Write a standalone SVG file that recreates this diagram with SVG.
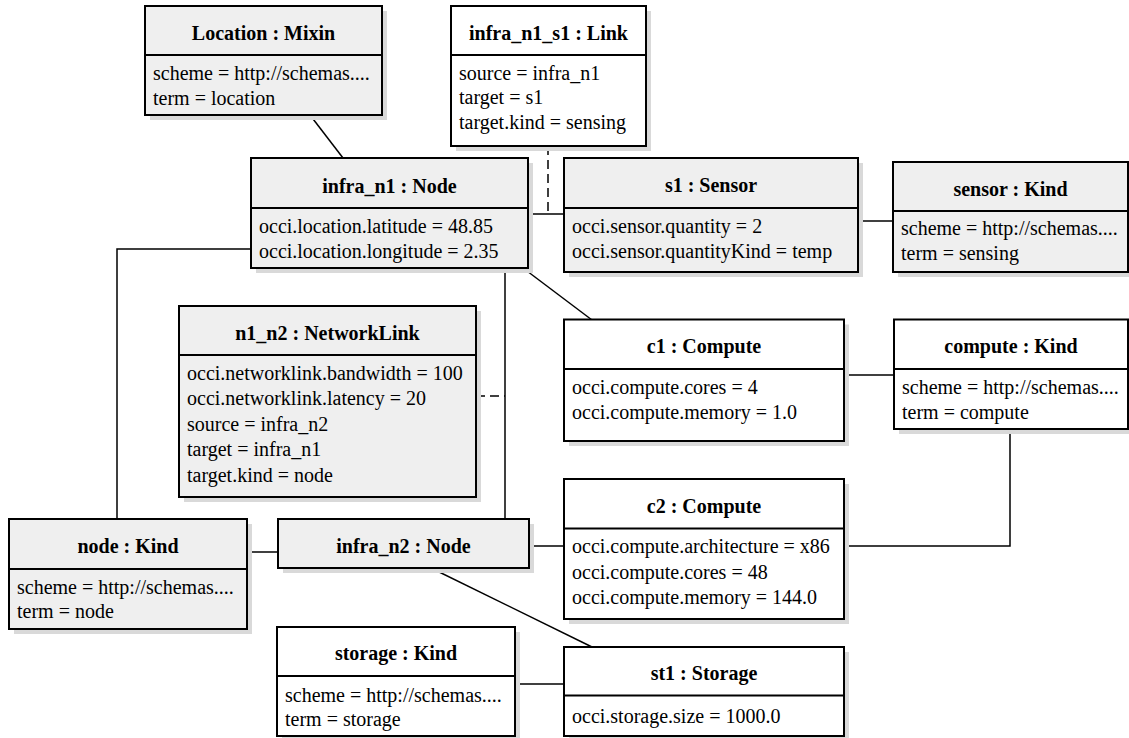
<svg xmlns="http://www.w3.org/2000/svg" width="1129" height="738" viewBox="0 0 1129 738">
<style>
.sh{fill:#d9d9d9;stroke:none}
.box{stroke:#000;stroke-width:2}
.g{fill:#efefef}
.w{fill:#fff}
.sep{stroke:#000;stroke-width:2}
text{font-family:'Liberation Serif','Times New Roman',Tinos,'DejaVu Serif',serif;font-size:20px;fill:#000}
.t{font-weight:bold;text-anchor:middle}
.c{fill:none;stroke:#000;stroke-width:1.5}
.d{stroke-dasharray:9,5}
</style>
<rect x="0" y="0" width="1129" height="738" fill="#fff"/>
<g id="connectors">
 <line class="c" x1="310" y1="115" x2="343" y2="158"/>
 <line class="c" x1="528" y1="214" x2="564" y2="214"/>
 <line class="c d" x1="548" y1="146" x2="548" y2="214"/>
 <line class="c" x1="858" y1="221" x2="893" y2="221"/>
 <polyline class="c" points="251,249 117,249 117,519"/>
 <line class="c" x1="523" y1="268" x2="592" y2="320"/>
 <line class="c" x1="505" y1="268" x2="505" y2="519"/>
 <line class="c d" x1="476" y1="396" x2="505" y2="396"/>
 <line class="c" x1="844" y1="375" x2="894" y2="375"/>
 <line class="c" x1="529" y1="546" x2="564" y2="546"/>
 <polyline class="c" points="844,546 1010,546 1010,429"/>
 <line class="c" x1="247" y1="552" x2="278" y2="552"/>
 <line class="c" x1="431" y1="568" x2="592" y2="647"/>
 <line class="c" x1="515" y1="684" x2="564" y2="684"/>
</g>
<g id="location-mixin">
 <rect class="sh" x="150" y="11" width="237" height="109"/>
 <rect class="box g" x="145" y="6" width="237" height="109"/>
 <line class="sep" x1="145" y1="55" x2="382" y2="55"/>
 <text class="t" x="263.5" y="40">Location : Mixin</text>
 <text class="a" x="153" y="80">scheme = http://schemas....</text>
 <text class="a" x="153" y="105">term = location</text>
</g>
<g id="infra_n1_s1-link">
 <rect class="sh" x="456" y="11" width="195" height="140"/>
 <rect class="box w" x="451" y="6" width="195" height="140"/>
 <line class="sep" x1="451" y1="55" x2="646" y2="55"/>
 <text class="t" x="548.5" y="40">infra_n1_s1 : Link</text>
 <text class="a" x="459" y="79.5">source = infra_n1</text>
 <text class="a" x="459" y="104">target = s1</text>
 <text class="a" x="459" y="128.5">target.kind = sensing</text>
</g>
<g id="infra_n1-node">
 <rect class="sh" x="256" y="163" width="277" height="110"/>
 <rect class="box g" x="251" y="158" width="277" height="110"/>
 <line class="sep" x1="251" y1="208" x2="528" y2="208"/>
 <text class="t" x="389.5" y="192.5">infra_n1 : Node</text>
 <text class="a" x="259" y="232.5">occi.location.latitude = 48.85</text>
 <text class="a" x="259" y="258">occi.location.longitude = 2.35</text>
</g>
<g id="s1-sensor">
 <rect class="sh" x="569" y="163" width="294" height="114"/>
 <rect class="box g" x="564" y="158" width="294" height="114"/>
 <line class="sep" x1="564" y1="208" x2="858" y2="208"/>
 <text class="t" x="711" y="192">s1 : Sensor</text>
 <text class="a" x="572" y="232.5">occi.sensor.quantity = 2</text>
 <text class="a" x="572" y="258">occi.sensor.quantityKind = temp</text>
</g>
<g id="sensor-kind">
 <rect class="sh" x="898" y="167" width="235" height="110"/>
 <rect class="box g" x="893" y="162" width="235" height="110"/>
 <line class="sep" x1="893" y1="211" x2="1128" y2="211"/>
 <text class="t" x="1010.5" y="195.5">sensor : Kind</text>
 <text class="a" x="901" y="234.5">scheme = http://schemas....</text>
 <text class="a" x="901" y="259.5">term = sensing</text>
</g>
<g id="n1_n2-networklink">
 <rect class="sh" x="184" y="311" width="297" height="191"/>
 <rect class="box g" x="179" y="306" width="297" height="191"/>
 <line class="sep" x1="179" y1="355" x2="476" y2="355"/>
 <text class="t" x="327.5" y="340">n1_n2 : NetworkLink</text>
 <text class="a" x="187" y="379.5">occi.networklink.bandwidth = 100</text>
 <text class="a" x="187" y="405">occi.networklink.latency = 20</text>
 <text class="a" x="187" y="430.5">source = infra_n2</text>
 <text class="a" x="187" y="456">target = infra_n1</text>
 <text class="a" x="187" y="481.5">target.kind = node</text>
</g>
<g id="c1-compute">
 <rect class="sh" x="569" y="324.5" width="280" height="121.5"/>
 <rect class="box w" x="564" y="319.5" width="280" height="121.5"/>
 <line class="sep" x1="564" y1="369" x2="844" y2="369"/>
 <text class="t" x="704" y="353">c1 : Compute</text>
 <text class="a" x="572" y="393.5">occi.compute.cores = 4</text>
 <text class="a" x="572" y="418.5">occi.compute.memory = 1.0</text>
</g>
<g id="compute-kind">
 <rect class="sh" x="899" y="324.5" width="234" height="109.5"/>
 <rect class="box w" x="894" y="319.5" width="234" height="109.5"/>
 <line class="sep" x1="894" y1="369" x2="1128" y2="369"/>
 <text class="t" x="1011" y="353">compute : Kind</text>
 <text class="a" x="902" y="393.5">scheme = http://schemas....</text>
 <text class="a" x="902" y="418.5">term = compute</text>
</g>
<g id="node-kind">
 <rect class="sh" x="14" y="524" width="238" height="110"/>
 <rect class="box g" x="9" y="519" width="238" height="110"/>
 <line class="sep" x1="9" y1="569" x2="247" y2="569"/>
 <text class="t" x="128" y="553">node : Kind</text>
 <text class="a" x="17" y="593.5">scheme = http://schemas....</text>
 <text class="a" x="17" y="618">term = node</text>
</g>
<g id="infra_n2-node">
 <rect class="sh" x="283" y="524" width="251" height="49"/>
 <rect class="box g" x="278" y="519" width="251" height="49"/>
 <text class="t" x="403.5" y="553">infra_n2 : Node</text>
</g>
<g id="c2-compute">
 <rect class="sh" x="569" y="484" width="280" height="140"/>
 <rect class="box w" x="564" y="479" width="280" height="140"/>
 <line class="sep" x1="564" y1="528.5" x2="844" y2="528.5"/>
 <text class="t" x="704" y="512.5">c2 : Compute</text>
 <text class="a" x="572" y="553">occi.compute.architecture = x86</text>
 <text class="a" x="572" y="578.5">occi.compute.cores = 48</text>
 <text class="a" x="572" y="604">occi.compute.memory = 144.0</text>
</g>
<g id="storage-kind">
 <rect class="sh" x="282" y="632" width="238" height="109"/>
 <rect class="box w" x="277" y="627" width="238" height="109"/>
 <line class="sep" x1="277" y1="676" x2="515" y2="676"/>
 <text class="t" x="396" y="660">storage : Kind</text>
 <text class="a" x="285" y="702">scheme = http://schemas....</text>
 <text class="a" x="285" y="726">term = storage</text>
</g>
<g id="st1-storage">
 <rect class="sh" x="569" y="652" width="280" height="89"/>
 <rect class="box w" x="564" y="647" width="280" height="89"/>
 <line class="sep" x1="564" y1="695.5" x2="844" y2="695.5"/>
 <text class="t" x="704" y="680">st1 : Storage</text>
 <text class="a" x="572" y="723">occi.storage.size = 1000.0</text>
</g>
</svg>
